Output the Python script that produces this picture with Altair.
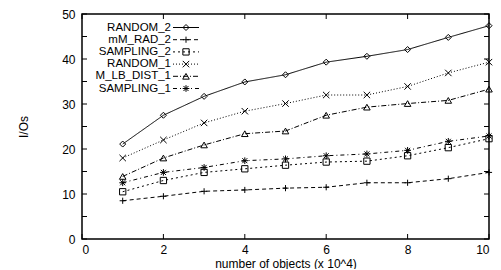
import altair as alt
import pandas as pd

x_vals = [1, 2, 3, 4, 5, 6, 7, 8, 9, 10]
series_names = ["RANDOM_2", "mM_RAD_2", "SAMPLING_2", "RANDOM_1", "M_LB_DIST_1", "SAMPLING_1"]
random_2 = [21.1, 27.5, 31.7, 34.9, 36.5, 39.3, 40.6, 42.1, 44.8, 47.4]
mm_rad_2 = [8.5, 9.5, 10.6, 10.9, 11.3, 11.5, 12.5, 12.5, 13.4, 14.8]
sampling_2 = [10.5, 13.0, 14.8, 15.6, 16.4, 17.1, 17.3, 18.5, 20.3, 22.3]
random_1 = [18.0, 22.0, 25.8, 28.4, 30.1, 32.0, 32.0, 33.9, 36.9, 39.3]
m_lb_dist_1 = [13.9, 18.0, 20.9, 23.4, 24.0, 27.5, 29.3, 30.1, 30.8, 33.3]
sampling_1 = [12.5, 14.8, 15.9, 17.4, 17.8, 18.5, 18.9, 19.7, 21.7, 22.9]
x_ticks = [0, 2, 4, 6, 8, 10]
y_ticks = [0, 5, 10, 15, 20, 25, 30, 35, 40, 45, 50]

all_series = [random_2, mm_rad_2, sampling_2, random_1, m_lb_dist_1, sampling_1]
rows = []
for name, vals in zip(series_names, all_series):
    for xv, yv in zip(x_vals, vals):
        rows.append({"series": name, "x": xv, "y": yv})
df = pd.DataFrame(rows)

dashes = [[1, 0], [4, 3], [2, 3], [1, 2], [5, 2, 1, 2], [4, 3, 1, 3]]
shapes = [
    "diamond",
    "M-1,0H1M0,-1V1",
    "square",
    "M-1,-1L1,1M-1,1L1,-1",
    "triangle-up",
    "M-1,0H1M0,-1V1M-0.75,-0.75L0.75,0.75M-0.75,0.75L0.75,-0.75",
]
sizes = [36, 45, 30, 36, 36, 45]

FONT = "Liberation Sans"
W, H = 407, 225

xs = alt.Scale(domain=[0, 10], nice=False)
ys = alt.Scale(domain=[0, 50], nice=False)
dash_scale = alt.Scale(domain=series_names, range=dashes)
shape_scale = alt.Scale(domain=series_names, range=shapes)
size_scale = alt.Scale(domain=series_names, range=sizes)

base = alt.Chart(df)
lines = base.mark_line(color="black", strokeWidth=1).encode(
    x=alt.X("x:Q", scale=xs, axis=alt.Axis(values=x_ticks, title="number of objects (x 10^4)",
                                          ticks=False, domain=False, grid=False,
                                          labelPadding=5, titlePadding=3)),
    y=alt.Y("y:Q", scale=ys, axis=alt.Axis(values=y_ticks, title="I/Os", ticks=False,
                                          domain=False, grid=False, labelPadding=7,
                                          titlePadding=31)),
    strokeDash=alt.StrokeDash("series:N", scale=dash_scale, legend=None),
    detail="series:N",
)
points = base.mark_point(color="black", filled=False, strokeWidth=1, opacity=1).encode(
    x=alt.X("x:Q", scale=xs),
    y=alt.Y("y:Q", scale=ys),
    shape=alt.Shape("series:N", scale=shape_scale, legend=None),
    size=alt.Size("series:N", scale=size_scale, legend=None),
)

ydf = pd.DataFrame({"v": y_ticks})
xdf = pd.DataFrame({"v": x_ticks})
yt_left = alt.Chart(ydf).mark_rule(color="black", strokeWidth=1).encode(
    y=alt.Y("v:Q", scale=ys), x=alt.value(0), x2=alt.value(5))
yt_right = alt.Chart(ydf).mark_rule(color="black", strokeWidth=1).encode(
    y=alt.Y("v:Q", scale=ys), x=alt.value(W - 5), x2=alt.value(W))
xt_bot = alt.Chart(xdf).mark_rule(color="black", strokeWidth=1).encode(
    x=alt.X("v:Q", scale=xs), y=alt.value(H - 5), y2=alt.value(H))
xt_top = alt.Chart(xdf).mark_rule(color="black", strokeWidth=1).encode(
    x=alt.X("v:Q", scale=xs), y=alt.value(0), y2=alt.value(5))

# legend
ldf = pd.DataFrame({"series": series_names, "row": list(range(len(series_names)))})
lbase = alt.Chart(ldf).transform_calculate(ly="13.5 + datum.row * 12.2")
leg_text = lbase.mark_text(align="right", baseline="middle", font=FONT, fontSize=11.5,
                           color="black").encode(
    x=alt.value(89), y=alt.Y("ly:Q", scale=None), text="series:N")
leg_line = lbase.mark_rule(color="black", strokeWidth=1).encode(
    x=alt.value(91), x2=alt.value(117), y=alt.Y("ly:Q", scale=None),
    strokeDash=alt.StrokeDash("series:N", scale=dash_scale, legend=None))
leg_pt = lbase.mark_point(color="black", filled=False, strokeWidth=1, opacity=1).encode(
    x=alt.value(104), y=alt.Y("ly:Q", scale=None),
    shape=alt.Shape("series:N", scale=shape_scale, legend=None),
    size=alt.Size("series:N", scale=size_scale, legend=None))

chart = alt.layer(
    lines, points, yt_left, yt_right, xt_bot, xt_top, leg_line, leg_pt, leg_text
).properties(
    width=W, height=H,
    autosize=alt.AutoSizeParams(type="none"),
    padding={"left": 74, "top": 6, "right": 4, "bottom": 30},
).configure_view(
    stroke="black", strokeWidth=1.5
).configure_axis(
    labelFont=FONT, labelFontSize=12, labelColor="black",
    titleFont=FONT, titleFontSize=12, titleColor="black", titleFontWeight="normal",
)

chart.save("out.html", embed_options={"renderer": "svg", "actions": False})
